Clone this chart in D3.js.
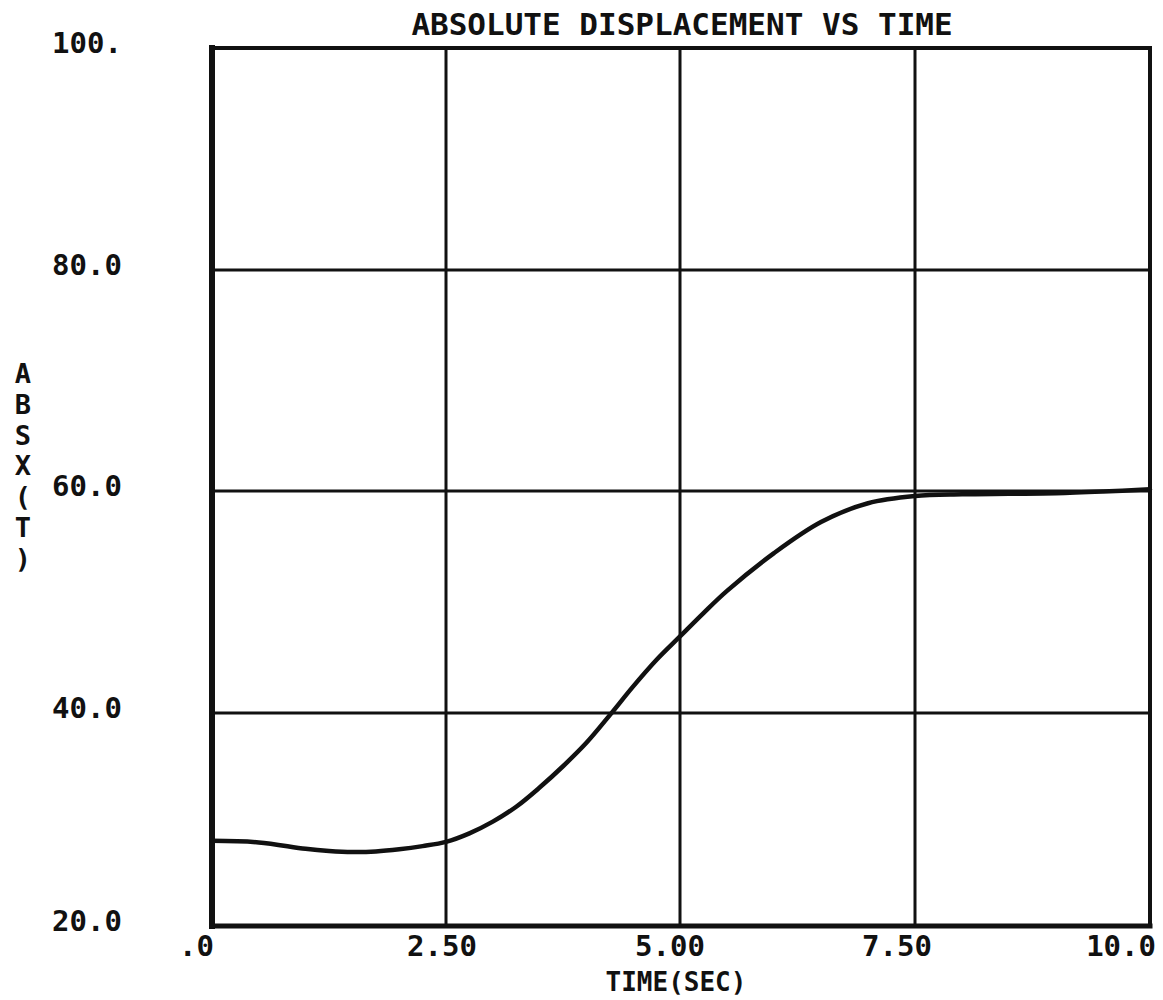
<!DOCTYPE html>
<html>
<head>
<meta charset="utf-8">
<script src="https://cdn.jsdelivr.net/npm/d3@7"></script>
<style>
  html, body { margin: 0; padding: 0; background: #fff; }
  svg { display: block; }
  text { font-family: "DejaVu Sans Mono", monospace; font-weight: bold; fill: #111; }
</style>
</head>
<body>
<svg id="chart" width="1163" height="1000"></svg>
<script>
// ---- data ----
const title = "ABSOLUTE DISPLACEMENT VS TIME";
const xTitle = "TIME(SEC)";
const yTitle = "ABSX(T)";
const xTicks = [0, 2.5, 5, 7.5, 10];
const xTickLabels = [".0", "2.50", "5.00", "7.50", "10.0"];
const yTicks = [20, 40, 60, 80, 100];
const yTickLabels = ["20.0", "40.0", "60.0", "80.0", "100."];
const time = [0, 0.5, 1.0, 1.25, 1.5, 1.75, 2.0, 2.25, 2.5, 2.75, 3.0, 3.25, 3.5, 3.75, 4.0, 4.25, 4.5, 4.75, 5.0, 5.25, 5.5, 6.0, 6.5, 7.0, 7.5, 8.0, 8.5, 9.0, 9.5, 10.0];
const absx = [28.0, 27.85, 27.25, 27.05, 26.95, 27.0, 27.2, 27.5, 27.9, 28.7, 29.8, 31.2, 33.0, 35.0, 37.2, 39.8, 42.4, 44.8, 46.9, 49.0, 51.0, 54.4, 57.2, 58.9, 59.55, 59.7, 59.75, 59.8, 59.95, 60.15];

// ---- scales (piecewise to follow the scanned grid) ----
const x = d3.scaleLinear().domain(xTicks).range([212, 446, 680, 915, 1150]);
const y = d3.scaleLinear().domain(yTicks).range([926, 713, 491, 270, 48]);

const svg = d3.select("#chart");
const [x0, x1] = [x(0), x(10)];
const [yb, yt] = [y(20), y(100)];

// grid lines
const grid = svg.append("g").attr("stroke", "#111").attr("stroke-width", 3);
grid.selectAll("line.vx").data(xTicks.slice(1, -1)).enter().append("line")
  .attr("x1", d => x(d)).attr("x2", d => x(d)).attr("y1", yt).attr("y2", yb);
grid.selectAll("line.hy").data(yTicks.slice(1, -1)).enter().append("line")
  .attr("x1", x0).attr("x2", x1).attr("y1", d => y(d)).attr("y2", d => y(d));

// frame
const frame = svg.append("g").attr("stroke", "#111").attr("stroke-linecap", "square");
frame.append("line").attr("x1", x0).attr("x2", x0).attr("y1", yt).attr("y2", yb).attr("stroke-width", 6);
frame.append("line").attr("x1", x0).attr("x2", x1).attr("y1", yb).attr("y2", yb).attr("stroke-width", 5);
frame.append("line").attr("x1", x0).attr("x2", x1).attr("y1", yt).attr("y2", yt).attr("stroke-width", 4);
frame.append("line").attr("x1", x1).attr("x2", x1).attr("y1", yt).attr("y2", yb).attr("stroke-width", 4);

// curve
const line = d3.line().x((d, i) => x(time[i])).y(d => y(d)).curve(d3.curveCatmullRom.alpha(0.5));
svg.append("path").datum(absx).attr("d", line)
  .attr("fill", "none").attr("stroke", "#111").attr("stroke-width", 4.5)
  .attr("stroke-linejoin", "round").attr("stroke-linecap", "round");

// x tick labels
const xShift = [2, -4, -10, -18, 6];
const xAnchor = ["end", "middle", "middle", "middle", "end"];
svg.append("g").selectAll("text").data(xTicks).enter().append("text")
  .attr("x", (d, i) => x(d) + xShift[i])
  .attr("y", 956)
  .attr("text-anchor", (d, i) => xAnchor[i])
  .attr("font-size", 29)
  .text((d, i) => xTickLabels[i]);

// y tick labels
svg.append("g").selectAll("text").data(yTicks).enter().append("text")
  .attr("x", 52)
  .attr("y", d => y(d) + 5)
  .attr("text-anchor", "start")
  .attr("font-size", 29)
  .text((d, i) => yTickLabels[i]);

// title
svg.append("text").attr("x", 682).attr("y", 35).attr("text-anchor", "middle")
  .attr("font-size", 31).text(title);

// x axis title
svg.append("text").attr("x", 676).attr("y", 991).attr("text-anchor", "middle")
  .attr("font-size", 26).text(xTitle);

// y axis title, stacked letters
svg.append("g").selectAll("text").data(yTitle.split("")).enter().append("text")
  .attr("x", 23).attr("y", (d, i) => 383 + i * 30.8)
  .attr("text-anchor", "middle").attr("font-size", 27)
  .text(d => d);
</script>
</body>
</html>
